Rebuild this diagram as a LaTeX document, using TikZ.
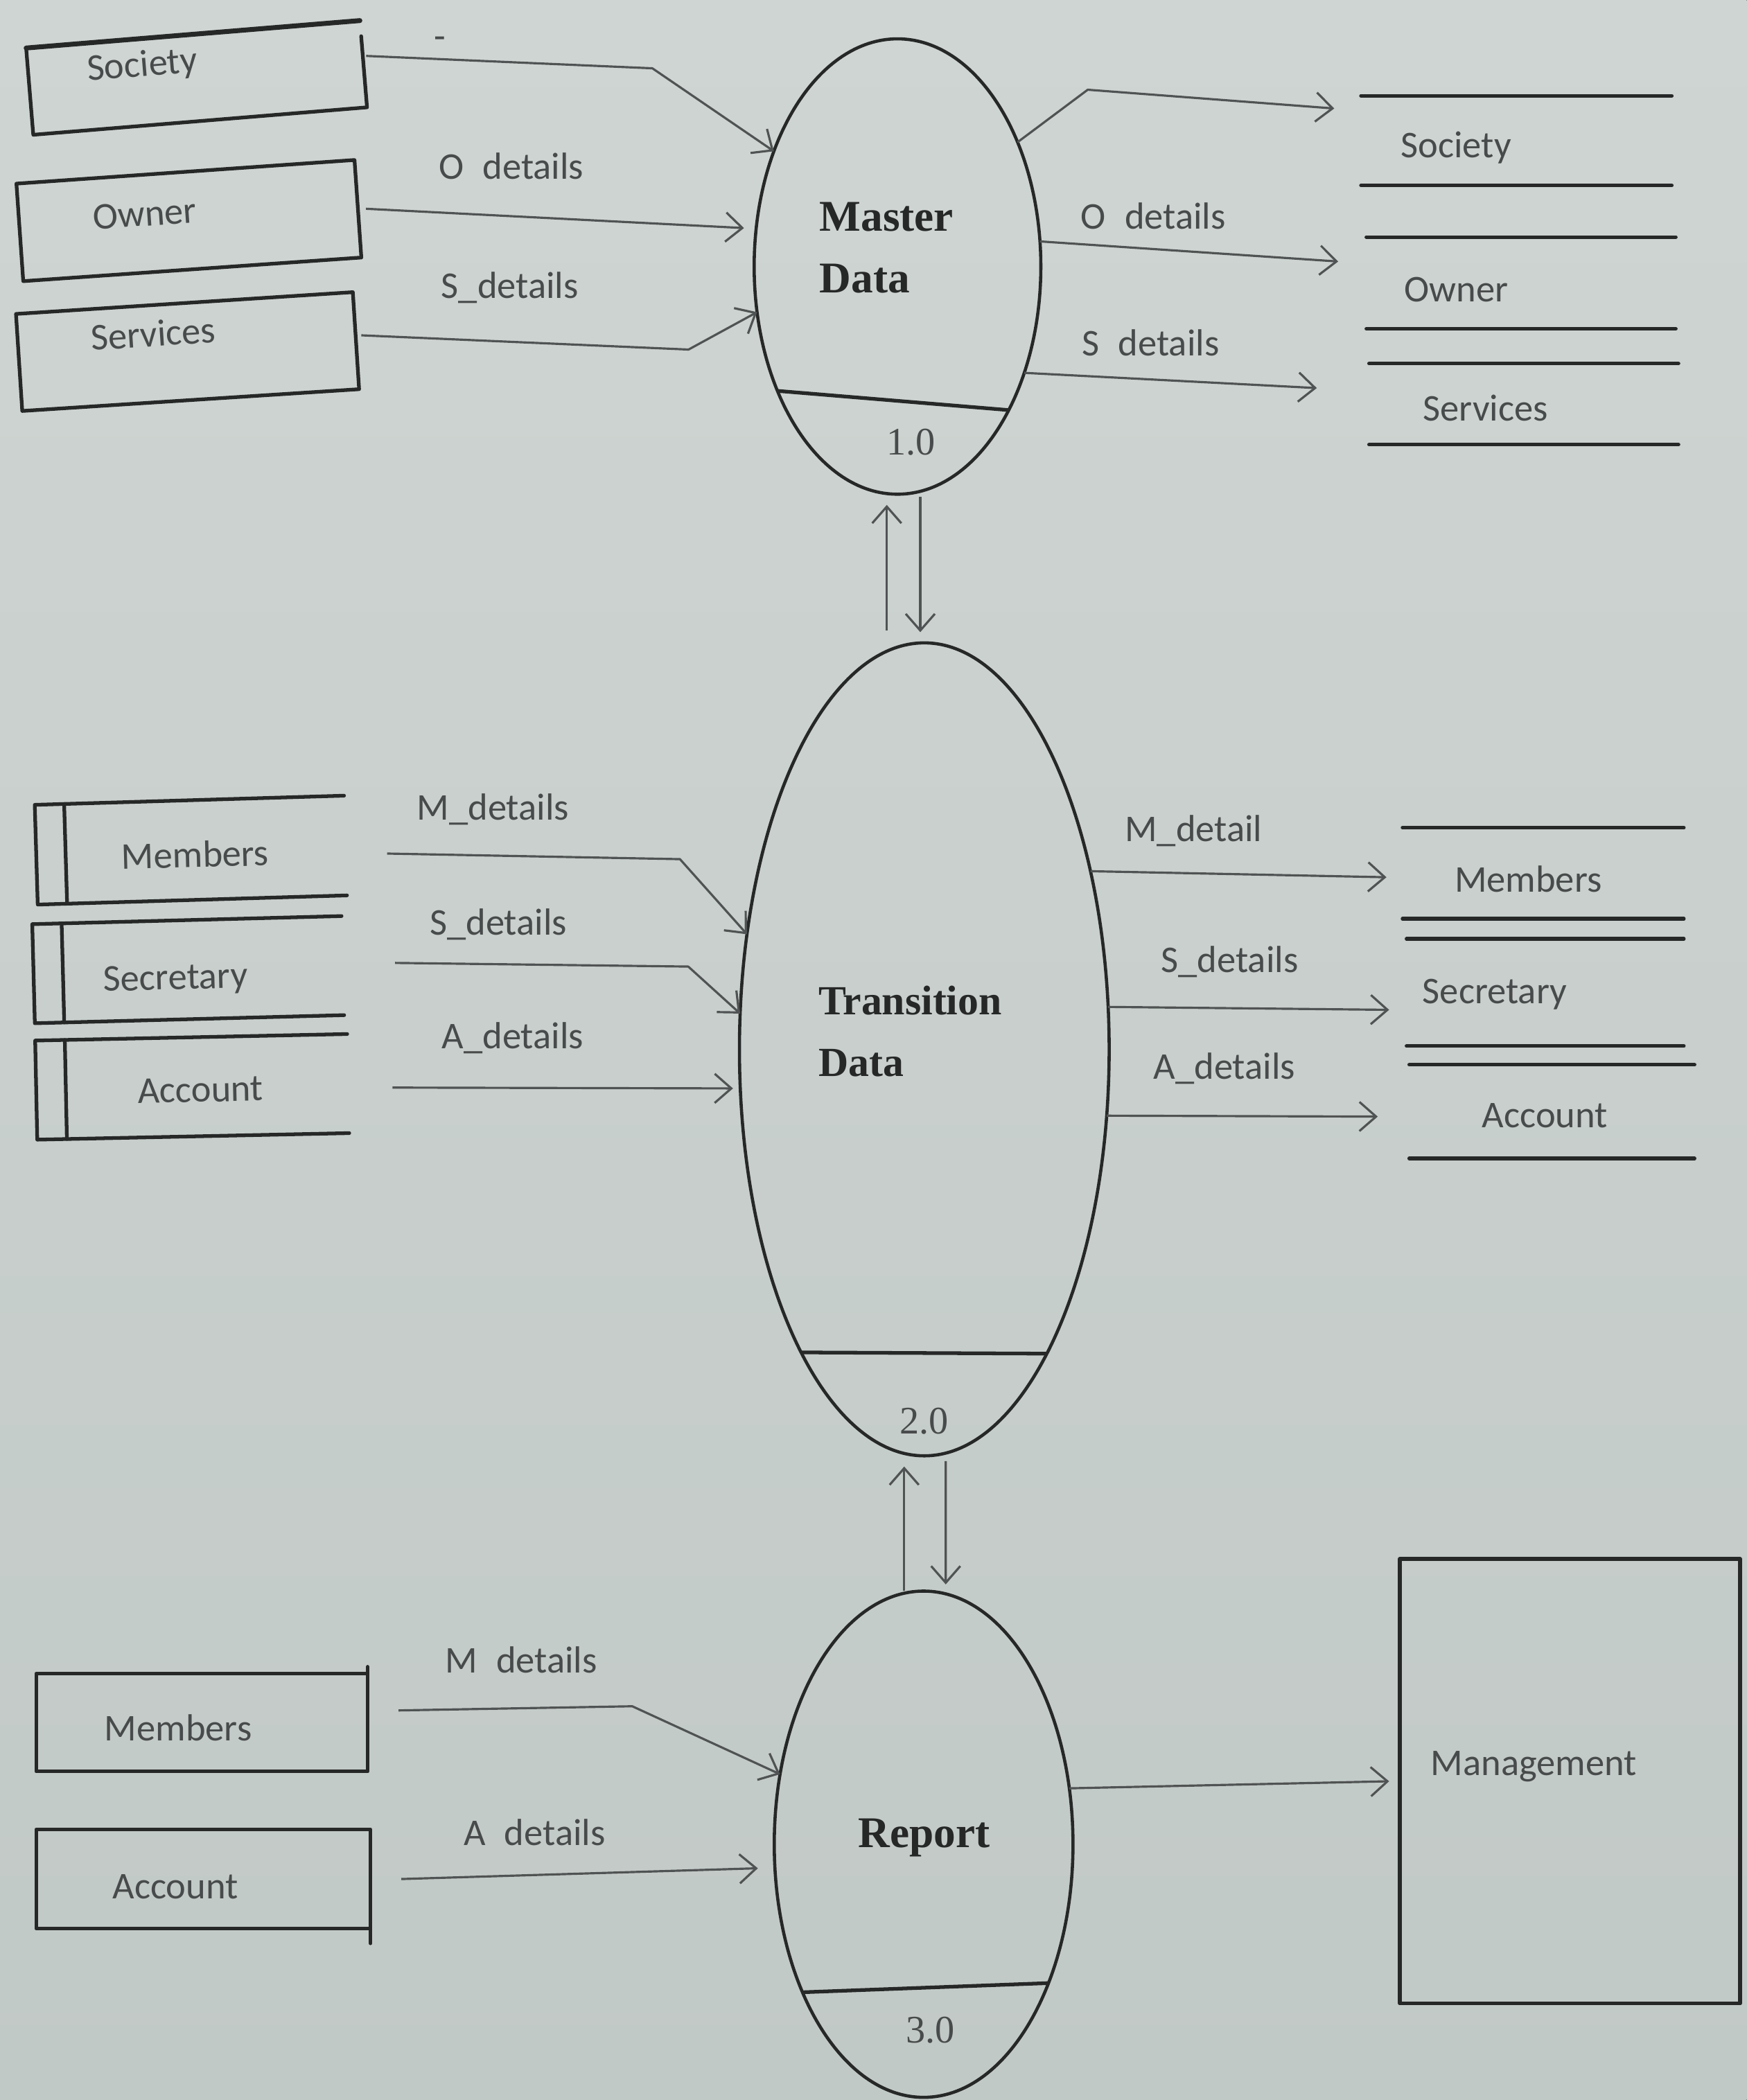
\documentclass[tikz,border=0pt]{standalone}
\usepackage{fontspec}
\setmainfont{Liberation Serif}
\newfontfamily\labfont{Carlito}
\usetikzlibrary{arrows.meta,calc,shapes.geometric}
\newcommand\pxu{0.019325cm}
\definecolor{bgtop}{RGB}{207,213,210}
\definecolor{bgbot}{RGB}{193,201,198}
\definecolor{ink}{RGB}{38,40,40}
\definecolor{arrink}{RGB}{80,83,83}
\definecolor{txtc}{RGB}{72,75,75}
\tikzset{
  proc/.style={ellipse, draw=ink, line width=1.3pt, inner sep=0pt, outer sep=0pt},
  shp/.style 2 args={rectangle, inner sep=0pt, outer sep=0pt, minimum width=#1*\pxu, minimum height=#2*\pxu},
  edge/.style={draw=ink, line width=1.5pt, line cap=round, line join=round},
  lbl/.style={font=\labfont\fontsize{15.5}{18}\selectfont, text=txtc, inner sep=0pt, text height=10pt, text depth=0pt},
  ptitle/.style={font=\bfseries\fontsize{18}{25.2}\selectfont, text=ink, align=left, inner sep=0pt, anchor=west},
  pnum/.style={font=\fontsize{16}{18}\selectfont, text=txtc, inner sep=0pt, text height=10.5pt, text depth=0pt},
  arr/.style={draw=arrink, line width=0.9pt, line join=round, -{Straight Barb[length=2.4mm, width=4.2mm]}}
}
\begin{document}
\begin{tikzpicture}[x=\pxu, y=-\pxu]
% background
\fill[top color=bgtop, bottom color=bgbot] (0,0) rectangle (1304,1568);
\useasboundingbox (0,0) rectangle (1304,1568);

% ---------- processes ----------
\node[proc, minimum width=214*\pxu, minimum height=340*\pxu] (e1) at (670,199) {};
\node[proc, minimum width=276*\pxu, minimum height=607*\pxu] (e2) at (690,783.5) {};
\node[proc, minimum width=223*\pxu, minimum height=378*\pxu] (e3) at (689.5,1377) {};

\begin{scope}
  \clip (e1.center) ellipse [x radius=107*\pxu, y radius=170*\pxu];
  \draw[edge] (540,288.5) -- (800,310.1);
\end{scope}
\begin{scope}
  \clip (e2.center) ellipse [x radius=138*\pxu, y radius=303.5*\pxu];
  \draw[edge] (540,1009.5) -- (840,1011);
\end{scope}
\begin{scope}
  \clip (e3.center) ellipse [x radius=111.5*\pxu, y radius=189*\pxu];
  \draw[edge] (560,1489) -- (820,1479.3);
\end{scope}

\node[ptitle] (t1) at (611.5,185) {Master\\Data};
\node[ptitle, font=\bfseries\fontsize{17}{25.2}\selectfont] (t2) at (610.6,770) {Transition\\Data};
\node[ptitle, anchor=center, text height=12pt, text depth=0pt] (t3) at (690,1368.7) {Report};
\node[pnum] (n1) at (680,330) {1.0};
\node[pnum] (n2) at (690,1061) {2.0};
\node[pnum] (n3) at (694.6,1516) {3.0};

% vertical flows between processes
\draw[arr] ($(e2.north)+(-28,-9)$) -- ($(e1.south)+(-8,8)$);
\draw[arr] ($(e1.south)+(17,2)$) -- ($(e2.north)+(-3,-8)$);
\draw[arr] ($(e3.north)+(-14.5,0)$) -- ($(e2.south)+(-15,8)$);
\draw[arr] ($(e2.south)+(16,4)$) -- ($(e3.north)+(16.5,-5)$);

% ---------- top-left entities ----------
\node[shp={250}{65}, rotate=4.7] (soc) at (146.75,58) {};
\node[shp={253}{73}, rotate=4] (own) at (141,164.7) {};
\node[shp={252}{72.6}, rotate=3.7] (srv) at (140,262.5) {};
\draw[edge, line width=2pt] (soc.north west) -- (soc.north east);
\draw[edge] ($(soc.north east)!0.18!(soc.south east)$) -- (soc.south east) -- (soc.south west) -- (soc.north west);
\draw[edge] (own.north west) -- (own.north east) -- (own.south east) -- (own.south west) -- cycle;
\draw[edge] (srv.north west) -- (srv.north east) -- (srv.south east) -- (srv.south west) -- cycle;
\node[lbl, rotate=4.7] (soct) at (106,48) {Society};
\node[lbl, rotate=4] (ownt) at (108,159.6) {Owner};
\node[lbl, rotate=3.7] (srvt) at (114.4,249.6) {Services};

\draw[arr] ($(soc.east)+(2,-6)$) -- (487,51) -- (e1.137);
\draw[arr, shorten >=5pt] ($(own.east)+(6,0)$) -- (e1.165);
\draw[arr] ($(srv.east)+(4,-4)$) -- (514,261) -- (e1.-162);
\node[lbl] (l1) at (328.6,27.6) {-};
\node[lbl] (l2) at (381.7,124.8) {O\hspace{0.5em}details};
\node[lbl] (l3) at (380.6,213.8) {S\_details};

% ---------- top-right stores ----------
\node[shp={232}{67}] (rs1) at (1132,105) {};
\node[shp={231}{68.5}] (rs2) at (1135.5,211.25) {};
\node[shp={231}{60.5}] (rs3) at (1137.5,301.75) {};
\foreach \s in {rs1,rs2,rs3}{
  \draw[edge] (\s.north west) -- (\s.north east);
  \draw[edge] (\s.south west) -- (\s.south east);
}
\node[lbl] (rs1t) at (1087,108.6) {Society};
\node[lbl] (rs2t) at (1087,216) {Owner};
\node[lbl] (rs3t) at (1109,305) {Services};

\draw[arr] (e1.46) -- (812,67) -- ($(rs1.west)+(-20,-24)$);
\draw[arr] (e1.10) -- ($(rs2.west)+(-21,-16)$);
\draw[arr] (e1.-40) -- ($(rs3.west)+(-39,-12)$);
\node[lbl] (l4) at (861,161.7) {O\hspace{0.5em}details};
\node[lbl] (l5) at (859,256.4) {S\hspace{0.5em}details};

% ---------- middle-left stores ----------
\node[shp={231}{74.5}, rotate=1.7] (lm1) at (142.5,634.75) {};
\node[shp={231}{74}, rotate=1.5] (lm2) at (140.5,724) {};
\node[shp={233}{74}, rotate=1.2] (lm3) at (143.5,811.5) {};
\foreach \s in {lm1,lm2,lm3}{
  \draw[edge] (\s.north east) -- (\s.north west) -- (\s.south west) -- (\s.south east);
  \draw[edge] ($(\s.north west)!0.095!(\s.north east)$) -- ($(\s.south west)!0.095!(\s.south east)$);
}
\node[lbl, rotate=1.5] (lm1t) at (145.6,638.6) {Members};
\node[lbl, rotate=1.5] (lm2t) at (131,729.6) {Secretary};
\node[lbl, rotate=1.2] (lm3t) at (149.7,813.7) {Account};

\draw[arr] ($(lm1.east)+(31,6)$) -- (507.6,641.5) -- (e2.147);
\draw[arr] ($(lm2.east)+(39,-2)$) -- (513.8,721.7) -- (e2.169);
\draw[arr, shorten >=3pt] ($(lm3.east)+(33,3)$) -- (e2.-168);
\node[lbl] (l6) at (368,603) {M\_details};
\node[lbl] (l7) at (372,689) {S\_details};
\node[lbl] (l8) at (382.7,774) {A\_details};

% ---------- middle-right stores ----------
\node[shp={210}{68}] (rm1) at (1152,652) {};
\node[shp={207}{80}] (rm2) at (1153.5,741) {};
\node[shp={213}{70}] (rm3) at (1158.5,830) {};
\foreach \s in {rm1,rm2,rm3}{
  \draw[edge] (\s.north west) -- (\s.north east);
  \draw[edge] (\s.south west) -- (\s.south east);
}
\node[lbl] (rm1t) at (1140.8,657) {Members};
\node[lbl] (rm2t) at (1115.8,740) {Secretary};
\node[lbl] (rm3t) at (1153.3,832.6) {Account};

\draw[arr] (e2.47) -- ($(rm1.west)+(-12,3)$);
\draw[arr] (e2.13) -- ($(rm2.west)+(-13,13)$);
\draw[arr] (e2.-20) -- ($(rm3.west)+(-23.5,3.7)$);
\node[lbl] (l9) at (891,619) {M\_detail};
\node[lbl] (l10) at (918,717) {S\_details};
\node[lbl] (l11) at (914,796.7) {A\_details};

% ---------- bottom ----------
\node[shp={247.5}{73.2}, edge] (bm1) at (150.75,1286.1) {};
\draw[edge] (bm1.north east) -- ++(0,-5);
\node[shp={249.6}{74}, edge] (bm2) at (151.8,1403) {};
\draw[edge] (bm2.south east) -- ++(0,11);
\node[lbl] (bm1t) at (133,1290.6) {Members};
\node[lbl] (bm2t) at (131,1408.6) {Account};

\draw[arr] ($(bm1.east)+(23,-9)$) -- (472,1274) -- (e3.154);
\draw[arr, shorten >=7pt] ($(bm2.east)+(23,0)$) -- (e3.-171);
\node[lbl] (l12) at (389,1240) {M\hspace{0.5em}details};
\node[lbl] (l13) at (399,1368.7) {A\hspace{0.5em}details};

\node[shp={254}{332}, edge] (mg) at (1172,1330) {};
\node[lbl] (mgt) at (1145,1316.7) {Management};
\draw[arr] (e3.21) -- ($(mg.west)+(-8,0)$);
\end{tikzpicture}
\end{document}
